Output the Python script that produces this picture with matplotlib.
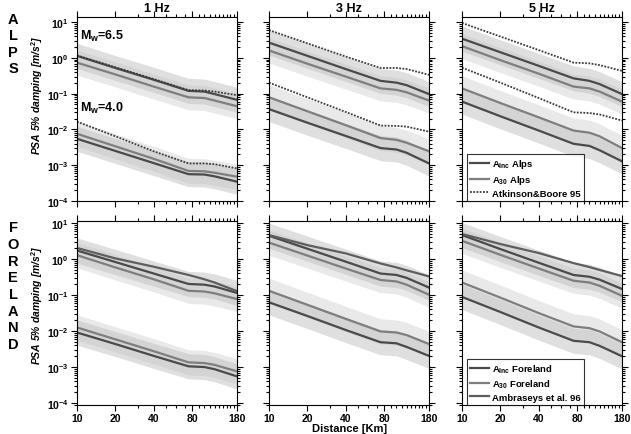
import numpy as np
import matplotlib
matplotlib.use('Agg')
import matplotlib.pyplot as plt
from matplotlib.ticker import FixedLocator, FuncFormatter, LogLocator, NullFormatter

plt.rcParams['font.family'] = 'Liberation Sans'
plt.rcParams['font.weight'] = 'bold'
plt.rcParams['mathtext.fontset'] = 'custom'
plt.rcParams['mathtext.rm'] = 'Liberation Sans:bold'
plt.rcParams['mathtext.it'] = 'Liberation Sans:bold:italic'
plt.rcParams['mathtext.bf'] = 'Liberation Sans:bold'
plt.rcParams['mathtext.default'] = 'rm'

dist = [10, 20, 40, 75, 100, 120, 180]

# log10 PSA values, Alps
alps1_inc65 = [0.06, -0.28, -0.61, -0.92, -0.94, -1.01, -1.17]
alps1_a30_65 = [-0.13, -0.46, -0.80, -1.10, -1.12, -1.19, -1.35]
alps1_ref65 = [0.07, -0.26, -0.59, -0.90, -0.91, -0.94, -1.04]
alps1_inc40 = [-2.26, -2.60, -2.94, -3.25, -3.26, -3.31, -3.46]
alps1_a30_40 = [-2.12, -2.47, -2.82, -3.16, -3.17, -3.21, -3.32]
alps1_ref40 = [-1.78, -2.19, -2.61, -2.95, -2.95, -2.97, -3.09]

alps3_inc65 = [0.43, 0.06, -0.31, -0.64, -0.69, -0.76, -1.01]
alps3_a30_65 = [0.21, -0.16, -0.52, -0.85, -0.89, -0.96, -1.19]
alps3_ref65 = [0.78, 0.41, 0.04, -0.28, -0.28, -0.31, -0.47]
alps3_inc40 = [-1.43, -1.81, -2.18, -2.52, -2.56, -2.65, -2.95]
alps3_a30_40 = [-1.10, -1.49, -1.88, -2.24, -2.29, -2.37, -2.61]
alps3_ref40 = [-0.69, -1.10, -1.51, -1.89, -1.90, -1.92, -2.06]

alps5_inc65 = [0.54, 0.16, -0.22, -0.57, -0.64, -0.73, -1.01]
alps5_a30_65 = [0.33, -0.06, -0.44, -0.80, -0.85, -0.94, -1.22]
alps5_ref65 = [0.98, 0.60, 0.22, -0.13, -0.15, -0.20, -0.36]
alps5_inc40 = [-1.22, -1.63, -2.03, -2.40, -2.46, -2.58, -2.89]
alps5_a30_40 = [-0.85, -1.26, -1.66, -2.03, -2.09, -2.19, -2.52]
alps5_ref40 = [-0.27, -0.69, -1.12, -1.52, -1.54, -1.58, -1.75]

# log10 PSA values, Foreland
fore1_inc65 = [0.24, -0.08, -0.40, -0.69, -0.71, -0.76, -0.94]
fore1_a30_65 = [0.11, -0.23, -0.56, -0.88, -0.90, -0.95, -1.11]
fore1_ref65 = [0.31, 0.02, -0.21, -0.44, -0.56, -0.65, -0.89]
fore1_inc40 = [-2.04, -2.36, -2.69, -2.98, -3.00, -3.06, -3.26]
fore1_a30_40 = [-1.90, -2.23, -2.56, -2.87, -2.89, -2.94, -3.12]

fore3_inc65 = [0.65, 0.29, -0.07, -0.40, -0.44, -0.52, -0.79]
fore3_a30_65 = [0.46, 0.10, -0.26, -0.58, -0.62, -0.71, -0.99]
fore3_ref65 = [0.67, 0.39, 0.16, -0.12, -0.23, -0.31, -0.48]
fore3_inc40 = [-1.20, -1.58, -1.97, -2.31, -2.34, -2.44, -2.69]
fore3_a30_40 = [-0.88, -1.27, -1.66, -2.01, -2.04, -2.11, -2.36]

fore5_inc65 = [0.67, 0.28, -0.10, -0.44, -0.49, -0.57, -0.83]
fore5_a30_65 = [0.51, 0.12, -0.26, -0.60, -0.65, -0.74, -1.02]
fore5_ref65 = [0.70, 0.42, 0.17, -0.11, -0.22, -0.30, -0.47]
fore5_inc40 = [-1.05, -1.47, -1.90, -2.27, -2.31, -2.41, -2.70]
fore5_a30_40 = [-0.65, -1.07, -1.50, -1.87, -1.92, -2.01, -2.31]

sigma = 0.35  # half width of the shaded bands (log10)

freqs = ['1 Hz', '3 Hz', '5 Hz']
xticks = [10, 20, 40, 80, 180]

alps = [
    (alps1_inc65, alps1_a30_65, alps1_ref65, alps1_inc40, alps1_a30_40, alps1_ref40),
    (alps3_inc65, alps3_a30_65, alps3_ref65, alps3_inc40, alps3_a30_40, alps3_ref40),
    (alps5_inc65, alps5_a30_65, alps5_ref65, alps5_inc40, alps5_a30_40, alps5_ref40),
]
fore = [
    (fore1_inc65, fore1_a30_65, fore1_ref65, fore1_inc40, fore1_a30_40, None),
    (fore3_inc65, fore3_a30_65, fore3_ref65, fore3_inc40, fore3_a30_40, None),
    (fore5_inc65, fore5_a30_65, fore5_ref65, fore5_inc40, fore5_a30_40, None),
]

c_inc = '#4a4a4a'
c_a30 = '#7e7e7e'
c_ref = '#3a3a3a'
c_amb = '#5e5e5e'

fig = plt.figure(figsize=(6.31, 4.35), dpi=100)
W, H = 631.0, 435.0
lefts = [77, 269, 462]
rows = [(18, 202), (222, 406)]

d = np.array(dist)


def band(ax, vals, col):
    v = np.array(vals)
    ax.fill_between(d, 10 ** (v - sigma), 10 ** (v + sigma), color=col, alpha=0.5, lw=0)


for r, (top, bot) in enumerate(rows):
    data = alps if r == 0 else fore
    for c in range(3):
        ax = fig.add_axes([lefts[c] / W, (H - bot) / H, 160 / W, (bot - top) / H])
        inc65, a30_65, ref65, inc40, a30_40, ref40 = data[c]
        for inc, a30 in [(inc65, a30_65), (inc40, a30_40)]:
            band(ax, a30, '#d4d4d4')
            band(ax, inc, '#c0c0c0')
        ax.plot(d, 10 ** np.array(inc65), color=c_inc, lw=1.6, label=r'A$_{Inc}$ ' + ('Alps' if r == 0 else 'Foreland'))
        ax.plot(d, 10 ** np.array(a30_65), color=c_a30, lw=1.6, label=r'A$_{30}$ ' + ('Alps' if r == 0 else 'Foreland'))
        ax.plot(d, 10 ** np.array(inc40), color=c_inc, lw=1.6)
        ax.plot(d, 10 ** np.array(a30_40), color=c_a30, lw=1.6)
        if r == 0:
            ax.plot(d, 10 ** np.array(ref65), color=c_ref, lw=1.3, ls=(0, (1, 0.8)), label='Atkinson&Boore 95')
            ax.plot(d, 10 ** np.array(ref40), color=c_ref, lw=1.3, ls=(0, (1, 0.8)))
        else:
            ax.plot(d, 10 ** np.array(ref65), color=c_amb, lw=1.6, label='Ambraseys et al. 96')

        ax.set_xscale('log')
        ax.set_yscale('log')
        ax.set_xlim(10, 180)
        if r == 0:
            ax.set_ylim(1e-4, 14)
        else:
            ax.set_ylim(0.88e-4, 11.5)
        ax.xaxis.set_major_locator(FixedLocator(xticks))
        ax.xaxis.set_minor_locator(FixedLocator([v for v in range(30, 180, 10) if v not in xticks]))
        ax.xaxis.set_minor_formatter(NullFormatter())
        ax.yaxis.set_major_locator(LogLocator(base=10, numticks=10))
        ax.yaxis.set_minor_locator(LogLocator(base=10, subs=np.arange(2, 10), numticks=20))
        ax.yaxis.set_minor_formatter(NullFormatter())
        ax.yaxis.set_major_formatter(FuncFormatter(lambda v, p: r'$10^{%d}$' % int(round(np.log10(v)))))
        ax.xaxis.set_major_formatter(FuncFormatter(lambda v, p: '%d' % v))
        ax.tick_params(which='both', direction='out', top=True, right=True, width=0.8,
                       labelsize=7.5, pad=2)
        ax.tick_params(axis='x', pad=1.5)
        ax.tick_params(which='major', length=4)
        ax.tick_params(which='minor', length=2)
        if r == 0:
            ax.tick_params(labelbottom=False)
        if c > 0:
            ax.tick_params(labelleft=False)
        for s in ax.spines.values():
            s.set_linewidth(0.8)

        if r == 0:
            ax.set_title(freqs[c], fontsize=9, fontweight='bold', pad=4)
        if r == 0 and c == 0:
            ax.text(0.02, 0.94, r'M$_w$=6.5', transform=ax.transAxes, fontsize=9, va='top')
            ax.text(0.02, 0.55, r'M$_w$=4.0', transform=ax.transAxes, fontsize=9, va='top')
        if c == 2:
            leg = ax.legend(loc='lower left', bbox_to_anchor=(0.03, 0.0), borderaxespad=0,
                            fontsize=6.8, frameon=True, fancybox=False, handlelength=2.0,
                            handletextpad=0.3, labelspacing=0.3, borderpad=0.35)
            leg.get_frame().set_edgecolor('black')
            leg.get_frame().set_linewidth(0.8)

# y labels and row labels
fig.text(37 / W, 1 - 95 / H, r'PSA 5% damping [m/s$^2$]', rotation=90, ha='center', va='center',
         fontsize=7.5, style='italic')
fig.text(37 / W, 1 - 305 / H, r'PSA 5% damping [m/s$^2$]', rotation=90, ha='center', va='center',
         fontsize=7.5, style='italic')
fig.text(13 / W, 1 - 13 / H, '\n'.join('ALPS'), ha='center', va='top', fontsize=10.5, linespacing=1.22)
fig.text(13 / W, 1 - 221 / H, '\n'.join('FORELAND'), ha='center', va='top', fontsize=10.5, linespacing=1.25)
fig.text(350 / W, 0.5 / H, 'Distance [Km]', ha='center', va='bottom', fontsize=8)

fig.savefig('out.png', dpi=100)
